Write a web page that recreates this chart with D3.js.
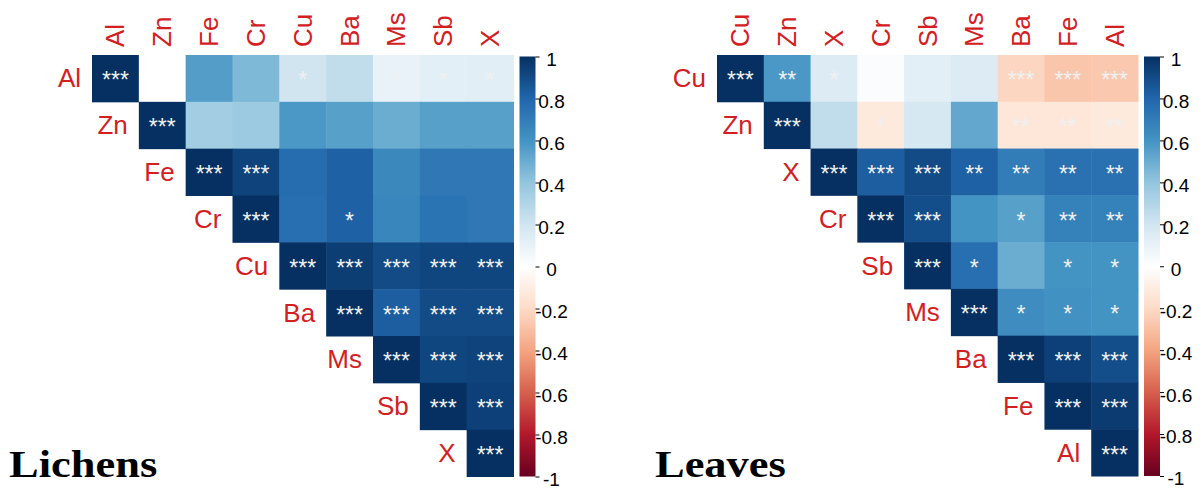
<!DOCTYPE html>
<html>
<head>
<meta charset="utf-8">
<script src="https://cdn.jsdelivr.net/npm/d3@7"></script>
<style>
  html, body { margin: 0; padding: 0; background: #fff; }
  svg { display: block; }
</style>
</head>
<body>
<svg id="chart" width="1204" height="490"></svg>
<script>
// Lichens: variable order and upper-triangle correlations (row i starts at column i)
const lichensVars = ["Al", "Zn", "Fe", "Cr", "Cu", "Ba", "Ms", "Sb", "X"];
const lichensCorr = [
  [1, 0.0, 0.56, 0.45, 0.2, 0.25, 0.1, 0.12, 0.13],
  [1, 0.35, 0.37, 0.58, 0.55, 0.5, 0.55, 0.55],
  [1, 0.93, 0.77, 0.82, 0.65, 0.72, 0.72],
  [1, 0.76, 0.82, 0.66, 0.74, 0.72],
  [1, 0.95, 0.9, 0.92, 0.92],
  [1, 0.83, 0.9, 0.9],
  [1, 0.92, 0.93],
  [1, 0.94],
  [1]
];
const lichensSig = [
  ["***", "", "", "", "*", "", "*", "*", "*"],
  ["***", "", "", "", "", "", "", ""],
  ["***", "***", "", "", "", "", ""],
  ["***", "", "*", "", ""],
  ["***", "***", "***", "***", "***"],
  ["***", "***", "***", "***"],
  ["***", "***", "***"],
  ["***", "***"],
  ["***"]
];

// Leaves
const leavesVars = ["Cu", "Zn", "X", "Cr", "Sb", "Ms", "Ba", "Fe", "Al"];
const leavesCorr = [
  [1, 0.58, 0.15, 0.02, 0.12, 0.15, -0.22, -0.28, -0.27],
  [1, 0.25, -0.12, 0.18, 0.52, -0.14, -0.14, -0.12],
  [1, 0.83, 0.9, 0.82, 0.7, 0.75, 0.75],
  [1, 0.89, 0.6, 0.55, 0.68, 0.68],
  [1, 0.76, 0.5, 0.6, 0.6],
  [1, 0.63, 0.61, 0.6],
  [1, 0.94, 0.89],
  [1, 0.96],
  [1]
];
const leavesSig = [
  ["***", "**", "*", "", "", "", "***", "***", "***"],
  ["***", "", "*", "", "", "**", "**", "**"],
  ["***", "***", "***", "**", "**", "**", "**"],
  ["***", "***", "", "*", "**", "**"],
  ["***", "*", "", "*", "*"],
  ["***", "*", "*", "*"],
  ["***", "***", "***"],
  ["***", "***"],
  ["***"]
];

// Colour legend ticks and the diverging RdBu palette stops
const legendTicks = [1, 0.8, 0.6, 0.4, 0.2, 0, -0.2, -0.4, -0.6, -0.8, -1];
const paletteStops = ["#67001F", "#B2182B", "#D6604D", "#F4A582", "#FDDBC7", "#FFFFFF",
                      "#D1E5F0", "#92C5DE", "#4393C3", "#2166AC", "#053061"];

const color = d3.scaleLinear()
  .domain(d3.range(paletteStops.length).map(i => -1 + i * 0.2))
  .range(paletteStops)
  .interpolate(d3.interpolateRgb);

const svg = d3.select("#chart");
const labelColor = "#d3201f";
const sansFont = "'Liberation Sans', Arial, sans-serif";

function drawPanel(opts) {
  const { vars, corr, sig, left, top, size, title } = opts;
  const g = svg.append("g");

  const x = d3.scaleBand().domain(vars).range([left, left + size]).padding(0);
  const y = d3.scaleBand().domain(vars).range([top, top + size]).padding(0);
  const cell = x.bandwidth();

  // flatten upper triangle
  const cells = [];
  corr.forEach((row, i) => row.forEach((v, k) => {
    const j = i + k;
    cells.push({ r: vars[i], c: vars[j], v, s: sig[i][k] });
  }));

  g.selectAll("rect.cell").data(cells).join("rect")
    .attr("class", "cell")
    .attr("x", d => x(d.c))
    .attr("y", d => y(d.r))
    .attr("width", cell + 0.5)
    .attr("height", cell + 0.5)
    .attr("fill", d => color(d.v));

  g.selectAll("text.sig").data(cells.filter(d => d.s)).join("text")
    .attr("class", "sig")
    .attr("x", d => x(d.c) + cell / 2)
    .attr("y", d => y(d.r) + cell / 2 + 10)
    .attr("text-anchor", "middle")
    .attr("font-family", sansFont)
    .attr("font-size", 23)
    .attr("fill", "#f0f0f0")
    .text(d => d.s);

  // column labels (rotated)
  g.selectAll("text.col").data(vars).join("text")
    .attr("class", "col")
    .attr("transform", d => `translate(${x(d) + cell / 2 + 9},${top - 8}) rotate(-90)`)
    .attr("text-anchor", "start")
    .attr("font-family", sansFont)
    .attr("font-size", 26)
    .attr("fill", labelColor)
    .text(d => d);

  // row labels beside the diagonal
  g.selectAll("text.row").data(vars).join("text")
    .attr("class", "row")
    .attr("x", d => x(d) - 11)
    .attr("y", d => y(d) + cell / 2 + 9)
    .attr("text-anchor", "end")
    .attr("font-family", sansFont)
    .attr("font-size", 26)
    .attr("fill", labelColor)
    .text(d => d);

  // colour legend
  const barX = left + size + 6;
  const barW = 16;
  const barScale = d3.scaleLinear().domain([1, -1]).range([top + 1.5, top + size]);
  const gradId = "grad-" + title;
  const grad = svg.append("defs").append("linearGradient")
    .attr("id", gradId).attr("x1", 0).attr("y1", 1).attr("x2", 0).attr("y2", 0);
  paletteStops.forEach((c, i) => {
    grad.append("stop").attr("offset", i / (paletteStops.length - 1)).attr("stop-color", c);
  });
  g.append("rect")
    .attr("x", barX).attr("y", barScale(1))
    .attr("width", barW).attr("height", barScale(-1) - barScale(1))
    .attr("fill", `url(#${gradId})`);

  const axis = d3.axisRight(barScale)
    .tickValues(legendTicks)
    .tickSize(4)
    .tickFormat(d => d3.format("")(d));
  const ag = g.append("g")
    .attr("transform", `translate(${barX + barW},0)`)
    .call(axis);
  ag.select(".domain").remove();
  ag.selectAll(".tick line").attr("stroke", "#000").attr("stroke-width", 1);
  ag.selectAll(".tick text")
    .attr("x", 16)
    .attr("dy", "0.47em")
    .attr("text-anchor", "middle")
    .attr("font-family", sansFont)
    .attr("font-size", 19)
    .attr("fill", "#000")
    .text(d => d < 0 ? "-" + Math.abs(d) : String(d));

  // panel title
  svg.append("text")
    .attr("transform", `translate(${opts.titleX},477) scale(1.17,1)`)
    .attr("font-family", "'Liberation Serif', 'Times New Roman', serif")
    .attr("font-weight", "bold")
    .attr("font-size", 38)
    .attr("fill", "#000")
    .text(title);
}

drawPanel({ vars: lichensVars, corr: lichensCorr, sig: lichensSig,
            left: 92, top: 55, size: 421.5, title: "Lichens", titleX: 9 });
drawPanel({ vars: leavesVars, corr: leavesCorr, sig: leavesSig,
            left: 717, top: 55, size: 421, title: "Leaves", titleX: 655 });
</script>
</body>
</html>
